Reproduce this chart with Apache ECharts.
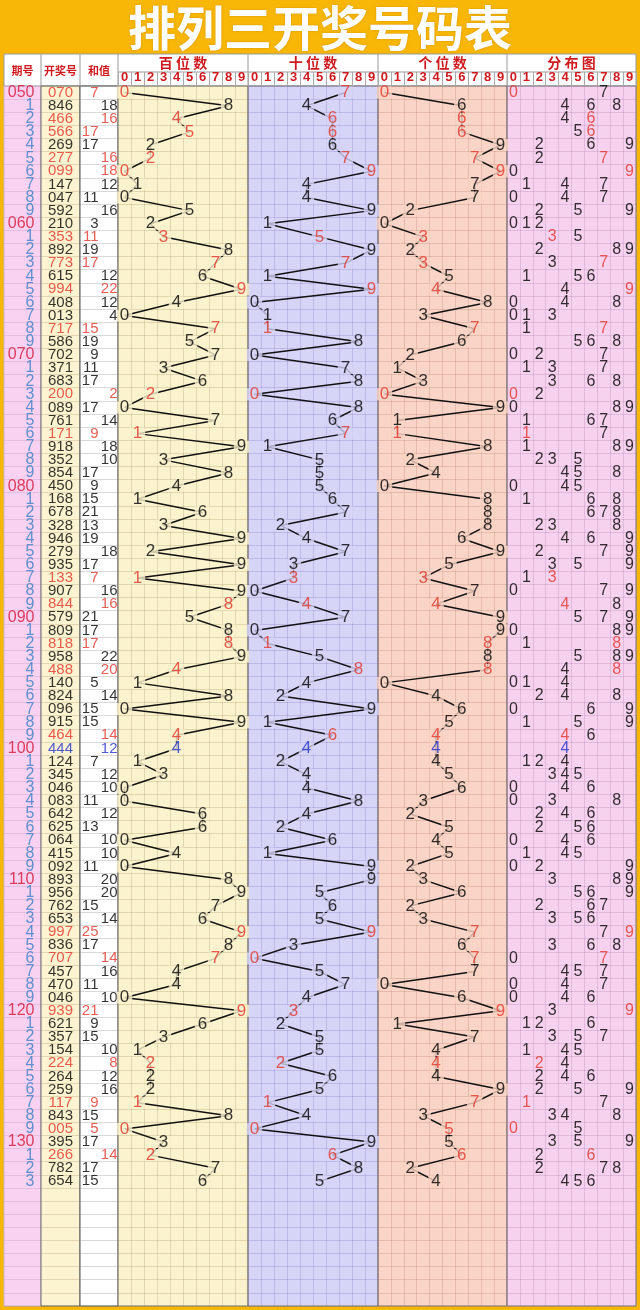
<!DOCTYPE html>
<html><head><meta charset="utf-8">
<script src="https://cdn.jsdelivr.net/npm/echarts@6/dist/echarts.min.js"></script>
<style>html,body{margin:0;padding:0;background:#F8B607;}#c{width:640px;height:1310px;}</style>
</head><body><div id="c"></div>
<script>
// ---------- data ----------
const periods = ['050','051','052','053','054','055','056','057','058','059',
  '060','061','062','063','064','065','066','067','068','069',
  '070','071','072','073','074','075','076','077','078','079',
  '080','081','082','083','084','085','086','087','088','089',
  '090','091','092','093','094','095','096','097','098','099',
  '100','101','102','103','104','105','106','107','108','109',
  '110','111','112','113','114','115','116','117','118','119',
  '120','121','122','123','124','125','126','127','128','129',
  '130','131','132','133'];
const draws = ['070','846','466','566','269','277','099','147','047','592',
  '210','353','892','773','615','994','408','013','717','586',
  '702','371','683','200','089','761','171','918','352','854',
  '450','168','678','328','946','279','935','133','907','844',
  '579','809','818','958','488','140','824','096','915','464',
  '444','124','345','046','083','642','625','064','415','092',
  '893','956','762','653','997','836','707','457','470','046',
  '939','621','357','154','224','264','259','117','843','005',
  '395','266','782','654'];
const sums = [7,18,16,17,17,16,18,12,11,16,
  3,11,19,17,12,22,12,4,15,19,
  9,11,17,2,17,14,9,18,10,17,
  9,15,21,13,19,18,17,7,16,16,
  21,17,17,22,20,5,14,15,15,14,
  12,7,12,10,11,12,13,10,10,11,
  20,20,15,14,25,17,14,16,11,10,
  21,9,15,10,8,12,16,9,15,5,
  17,14,17,15];
const digitLabels = ['0','1','2','3','4','5','6','7','8','9'];
const columnTitles = ['期号','开奖号','和值'];
const sectionTitles = ['百位数','十位数','个位数','分布图'];
const chartTitle = '排列三开奖号码表';
const BLANK_ROWS = 9;

// ---------- styling ----------
const RED = '#e4352c', BLUE = '#2330d0', BLACK = '#000';
const PRED = '#d4153a', PBLUE = '#3a80c6', HRED = '#cf1a1f';
const NUMFONT = '"Liberation Sans", Arial, sans-serif';
const TOP = 86, ROWH = 13.118;
const rowCount = periods.length + BLANK_ROWS;
const HEIGHT = rowCount * ROWH;
const rowCats = periods.concat(Array.from({length: BLANK_ROWS}, (_, k) => 'blank' + k));

const cols = [
  {left: 4,   width: 37,  bg: '#F8D2F0', border: '#c9b6c6', grid: 'rgba(150,110,150,0.2)'},
  {left: 41,  width: 39,  bg: '#FCF3D0', border: '#666', grid: 'rgba(140,120,70,0.22)'},
  {left: 80,  width: 38,  bg: '#FFFFFF', border: '#555', grid: 'rgba(120,120,120,0.28)'},
  {left: 118, width: 130, bg: '#FBF2CE', border: '#777', grid: 'rgba(150,130,80,0.25)'},
  {left: 248, width: 130, bg: '#D6D4F7', border: '#777', grid: 'rgba(110,105,180,0.25)'},
  {left: 378, width: 129, bg: '#FAD4C6', border: '#777', grid: 'rgba(170,110,95,0.25)'},
  {left: 507, width: 129, bg: '#F7D2EF', border: '#777', grid: 'rgba(160,110,160,0.25)'}
];

function rowType(d) {
  const a = d.split('');
  if (a[0] === a[1] && a[1] === a[2]) return 'triple';
  if (a[0] === a[1] || a[1] === a[2] || a[0] === a[2]) return 'pair';
  return 'normal';
}
function typeColor(t) { return t === 'triple' ? BLUE : (t === 'pair' ? RED : BLACK); }

const grids = cols.map(c => ({
  left: c.left, top: TOP, width: c.width, height: HEIGHT,
  show: true, backgroundColor: c.bg, borderColor: c.border, borderWidth: 1
}));

const xAxes = cols.map((c, gi) => {
  if (gi < 3) {
    return {gridIndex: gi, type: 'category', data: gi === 2 ? ['odd', 'even'] : ['v'],
      axisLine: {show: false}, axisTick: {show: false}, axisLabel: {show: false},
      splitLine: {show: false}};
  }
  return {gridIndex: gi, type: 'category', data: digitLabels, position: 'top',
    axisLine: {show: false},
    axisTick: {show: true, interval: 0, length: 14, lineStyle: {color: '#aaa'}},
    axisLabel: {interval: 0, color: HRED, fontSize: 13, fontWeight: 'bold', margin: 2, fontFamily: NUMFONT},
    splitLine: {show: true, interval: 0, lineStyle: {color: c.grid, width: 1}}};
});

const yAxes = cols.map((c, gi) => ({
  gridIndex: gi, type: 'category', data: rowCats, inverse: true,
  axisLine: {show: false}, axisTick: {show: false}, axisLabel: {show: false},
  splitLine: {show: true, interval: 0, lineStyle: {color: c.grid, width: 1}}
}));

const series = [];

// period column
series.push({
  type: 'scatter', xAxisIndex: 0, yAxisIndex: 0, symbolSize: 0, silent: true,
  label: {show: true, position: 'inside', align: 'right', offset: [12, 0], formatter: '{b}',
    fontSize: 16, fontFamily: NUMFONT},
  data: periods.map((p, i) => {
    const full = p.endsWith('0');
    return {name: full ? p : p.slice(2), value: [0, i], label: {color: full ? PRED : PBLUE}};
  })
});
// draw column
series.push({
  type: 'scatter', xAxisIndex: 1, yAxisIndex: 1, symbolSize: 0, silent: true,
  label: {show: true, position: 'inside', formatter: '{b}', fontSize: 15, fontFamily: NUMFONT},
  data: draws.map((d, i) => ({name: d, value: [0, i], label: {color: typeColor(rowType(d))}}))
});
// sum column (odd sums on the left half, even on the right half)
series.push({
  type: 'scatter', xAxisIndex: 2, yAxisIndex: 2, symbolSize: 0, silent: true,
  label: {show: true, position: 'inside', align: 'right', offset: [9, 0], formatter: '{b}',
    fontSize: 15, fontFamily: NUMFONT},
  data: sums.map((s, i) => ({name: String(s), value: [s % 2 === 1 ? 0 : 1, i],
    label: {color: typeColor(rowType(draws[i]))}}))
});
// digit trend charts
for (let pos = 0; pos < 3; pos++) {
  const gi = 3 + pos;
  const pts = draws.map((d, i) => [Number(d[pos]), i]);
  series.push({
    type: 'line', xAxisIndex: gi, yAxisIndex: gi, showSymbol: false, silent: true,
    lineStyle: {color: '#111', width: 1.5}, data: pts, z: 2, animation: false
  });
  series.push({
    type: 'scatter', xAxisIndex: gi, yAxisIndex: gi, symbolSize: 0, silent: true, z: 3,
    label: {show: true, position: 'inside', fontSize: 17, fontFamily: NUMFONT,
      backgroundColor: cols[gi].bg, padding: [0, 3], lineHeight: 12,
      formatter: p => digitLabels[p.value[0]]},
    data: draws.map((d, i) => ({value: [Number(d[pos]), i], label: {color: typeColor(rowType(d))}}))
  });
}
// distribution
const distData = [];
draws.forEach((d, i) => {
  const counts = {};
  d.split('').forEach(ch => counts[ch] = (counts[ch] || 0) + 1);
  Object.keys(counts).forEach(ch => {
    const c = counts[ch];
    distData.push({value: [Number(ch), i], label: {color: c === 3 ? BLUE : (c === 2 ? RED : BLACK)}});
  });
});
series.push({
  type: 'scatter', xAxisIndex: 6, yAxisIndex: 6, symbolSize: 0, silent: true,
  label: {show: true, position: 'inside', fontSize: 16, fontFamily: NUMFONT,
    formatter: p => digitLabels[p.value[0]]},
  data: distData
});

// header graphics
const HTOP = 54, HMID = 72;
const graphics = [
  {type: 'rect', shape: {x: 4, y: HTOP, width: 632, height: TOP - HTOP}, style: {fill: '#fff', stroke: '#999', lineWidth: 1}, z: -1}
];
graphics.push({type: 'line', shape: {x1: 118, y1: HMID, x2: 636, y2: HMID}, style: {stroke: '#999', lineWidth: 1}});
[41, 80, 118, 248, 378, 507].forEach(x => graphics.push({type: 'line', shape: {x1: x, y1: HTOP, x2: x, y2: TOP}, style: {stroke: '#999', lineWidth: 1}}));
const colCenters = [22.5, 60.5, 99];
columnTitles.forEach((t, k) => graphics.push({type: 'text', style: {text: t, x: colCenters[k], y: 71, align: 'center', verticalAlign: 'middle',
  fill: HRED, font: 'bold 11px "Noto Sans CJK SC"'}}));
const secCenters = [183, 313, 442.5, 571.5];
sectionTitles.forEach((t, k) => graphics.push({type: 'text', style: {text: t.split('').join(' '), x: secCenters[k], y: 63, align: 'center', verticalAlign: 'middle',
  fill: HRED, font: 'bold 14px "Noto Sans CJK SC"'}}));

const chart = echarts.init(document.getElementById('c'), null, {renderer: 'canvas'});
chart.setOption({
  animation: false,
  backgroundColor: '#F8B607',
  title: {text: chartTitle, left: 'center', top: -1,
    textStyle: {color: '#fff', fontSize: 48, fontWeight: 'bold', fontFamily: '"Noto Sans CJK SC"',
      textShadowColor: 'rgba(120,80,0,0.35)', textShadowBlur: 2}},
  grid: grids, xAxis: xAxes, yAxis: yAxes, series: series,
  graphic: graphics
});
</script></body></html>
